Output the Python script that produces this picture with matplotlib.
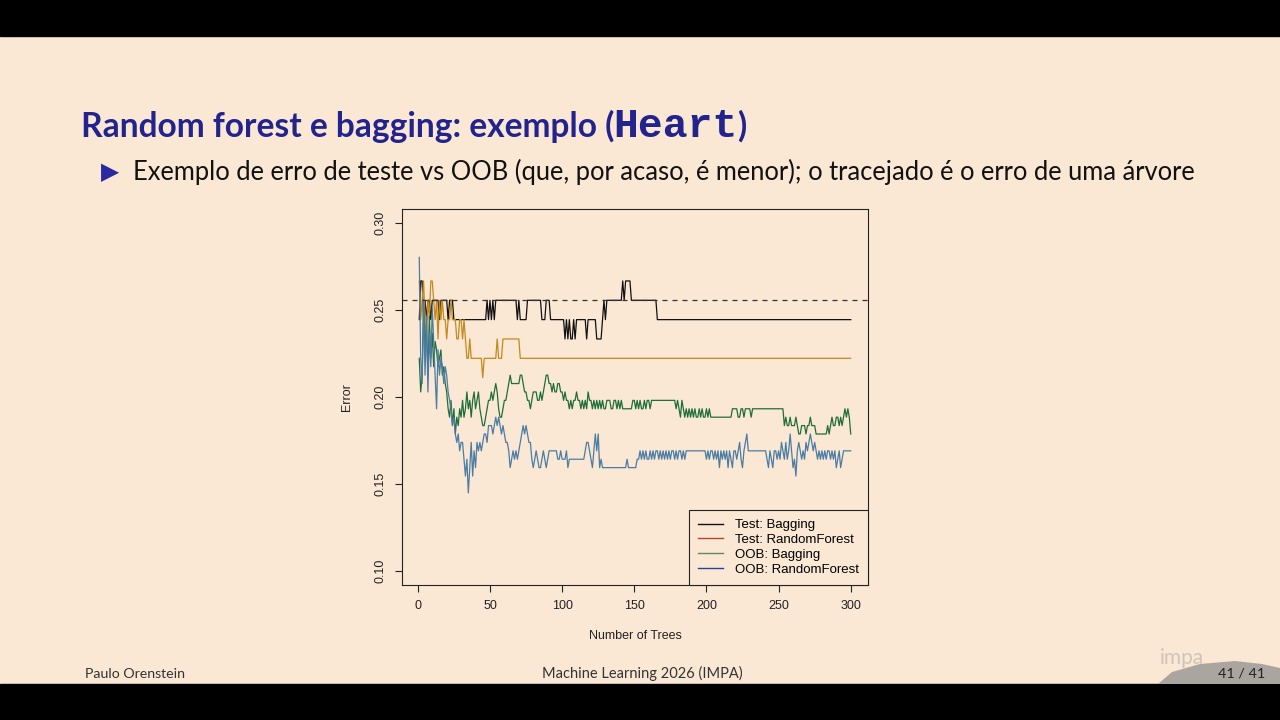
import numpy as np
import matplotlib
matplotlib.use("Agg")
import matplotlib.pyplot as plt
from matplotlib import font_manager
from matplotlib.lines import Line2D
from matplotlib.patches import Rectangle, Polygon

# errors, as counts: test set has 90 obs, OOB uses 207
n_test = 90
n_oob = 207
single_tree_err = 23 / 90

test_bag = ([22, 24, 24, 22, 23, 22, 23, 23, 22, 23,
             23, 23, 23, 23, 22, 23, 23, 23, 23, 23,
             22, 23, 23, 23, 22]
            + [22] * 22
            + [23, 22, 23, 22, 23, 22]
            + [23] * 15
            + [22, 23, 22, 22, 22, 22, 22]
            + [23] * 10
            + [22, 22, 22]
            + [23] * 3
            + [22] * 10
            + [21, 22, 21, 22, 21, 21, 22, 21, 22, 22]
            + [22] * 5
            + [21]
            + [22] * 6
            + [21, 21, 21, 21]
            + [22, 23, 22, 23]
            + [23] * 10
            + [24, 23, 24, 24, 24, 24]
            + [23] * 18
            + [22] * 135)

test_rf = ([24, 22, 23, 24, 22, 21, 23, 22, 24, 24,
            23, 22, 23, 21, 23, 22, 23, 22, 22, 21,
            22, 22, 23, 22, 22, 22, 21, 21, 22, 22,
            21, 22, 21, 20, 20, 21]
           + [20] * 8
           + [19]
           + [20] * 9
           + [21]
           + [20] * 3
           + [21] * 12
           + [20] * 230)

oob_bag = [46, 42, 44, 52, 47, 50, 44, 51, 46, 49,
           45, 48, 47, 45, 46, 47, 44, 45, 43, 42,
           40, 39, 41, 38, 40, 37, 39, 38, 40, 39,
           41, 39, 40, 42, 40, 41, 39, 41, 42, 40,
           41, 42, 40, 39, 38, 38, 39, 40, 41, 41,
           42, 41, 42, 43, 42, 40, 39, 39, 40, 41,
           41, 42, 43, 44, 43, 43, 43, 43, 43, 43,
           44, 44, 43, 42, 42, 41, 41, 40, 41, 42,
           42, 42, 41, 41, 42, 41, 42, 43, 44, 44,
           43, 43, 42, 43, 42, 42, 43, 43, 42, 42,
           41, 42, 41, 41, 40, 41, 40, 41, 41, 42,
           41, 41, 40, 41, 40, 41, 40, 42, 41, 41,
           40, 41, 40, 41, 40, 41, 40, 41, 40, 40,
           41, 41, 41, 40, 40, 41, 41, 40, 41, 40,
           41, 40, 40, 40, 40, 40, 40, 40, 41, 41,
           40, 41, 40, 41, 40, 40, 41, 40, 41, 41,
           40, 41, 41, 41, 41, 41, 41, 41, 41, 41,
           41, 41, 41, 41, 41, 41, 41, 41, 40, 41,
           40, 39, 41, 40, 39, 40, 39, 40, 39, 40,
           39, 40, 39, 39, 40, 39, 40, 39, 39, 40,
           39, 40, 39, 39, 39, 39, 39, 39, 39, 39,
           39, 39, 39, 39, 39, 39, 39, 40, 40, 40,
           40, 39, 39, 40, 40, 39, 40, 40, 40, 40,
           39, 40, 40, 40, 40, 40, 40, 40, 40, 40,
           40, 40, 40, 40, 40, 40, 40, 40, 40, 40,
           40, 40, 40, 38, 39, 38, 38, 39, 38, 38,
           38, 39, 38, 37, 37, 38, 38, 38, 37, 38,
           38, 39, 38, 38, 38, 37, 37, 37, 37, 37,
           37, 37, 37, 38, 37, 38, 39, 38, 38, 39,
           39, 38, 39, 38, 39, 40, 39, 40, 39, 37]

oob_rf = [58, 46, 43, 53, 44, 51, 42, 49, 45, 52,
          48, 44, 40, 47, 44, 46, 45, 43, 45, 44,
          42, 41, 40, 38, 39, 37, 36, 37, 35, 36,
          36, 34, 32, 34, 30, 33, 36, 32, 35, 33,
          36, 35, 36, 35, 36, 37, 37, 36, 38, 38,
          38, 37, 38, 39, 38, 39, 38, 37, 38, 37,
          36, 36, 35, 33, 34, 35, 34, 35, 34, 35,
          36, 37, 38, 37, 38, 37, 36, 36, 34, 33,
          34, 35, 34, 33, 33, 34, 35, 34, 33, 34,
          35, 35, 35, 35, 35, 35, 34, 34, 35, 34,
          34, 34, 35, 33, 34, 34, 34, 34, 34, 34,
          34, 34, 34, 34, 34, 35, 36, 36, 35, 34,
          33, 35, 37, 35, 37, 33, 34, 33, 33, 33,
          33, 33, 33, 33, 33, 33, 33, 33, 33, 33,
          33, 33, 33, 33, 34, 33, 33, 33, 33, 33,
          33, 34, 34, 35, 34, 35, 34, 35, 34, 34,
          35, 34, 35, 34, 35, 35, 34, 35, 34, 35,
          34, 35, 34, 35, 34, 35, 35, 34, 35, 34,
          35, 35, 34, 35, 34, 35, 35, 35, 35, 35,
          35, 35, 35, 35, 35, 35, 35, 35, 35, 34,
          35, 34, 35, 35, 34, 35, 34, 35, 33, 35,
          34, 35, 34, 35, 33, 35, 34, 33, 35, 35,
          34, 35, 36, 34, 33, 35, 36, 37, 35, 35,
          35, 35, 35, 35, 35, 35, 35, 35, 35, 35,
          35, 34, 33, 35, 34, 33, 35, 35, 34, 35,
          34, 36, 35, 34, 36, 34, 35, 37, 35, 33,
          34, 32, 35, 36, 35, 34, 35, 34, 36, 35,
          36, 37, 36, 35, 36, 35, 34, 35, 34, 35,
          34, 35, 34, 35, 35, 34, 35, 34, 35, 33,
          34, 35, 33, 34, 35, 35, 35, 35, 35, 35]

labels = ["Test: Bagging", "Test: RandomForest", "OOB: Bagging", "OOB: RandomForest"]
line_colors = ["#111111", "#C4891C", "#1F6E38", "#4A7CA4"]
legend_colors = ["#111111", "#B8442A", "#5E8B5E", "#2A3F9E"]
xticks = [0, 50, 100, 150, 200, 250, 300]
yticks = [0.10, 0.15, 0.20, 0.25, 0.30]

BG = "#FAE8D5"
W, H = 1280, 720

names = {f.name for f in font_manager.fontManager.ttflist}
def pick(*cands):
    for c in cands:
        if c in names:
            return c
    return "DejaVu Sans"

title_font = pick("Lato", "Open Sans", "DejaVu Sans")
body_font = pick("Lato", "Open Sans", "DejaVu Sans")
mono_font = pick("Liberation Mono", "DejaVu Sans Mono")
plot_font = pick("Liberation Sans", "DejaVu Sans")

fig = plt.figure(figsize=(12.8, 7.2), dpi=100, facecolor=BG)
renderer = fig.canvas.get_renderer()

def fx(x):
    return x / W

def fy(y):
    return 1 - y / H

def fit(t, width):
    bb = t.get_window_extent(renderer)
    t.set_fontsize(t.get_fontsize() * width / bb.width)

def right_px(t):
    return t.get_window_extent(renderer).x1

# black letterbox bars
fig.add_artist(Rectangle((0, fy(36)), 1, 36 / H, transform=fig.transFigure, color="black", zorder=0))
fig.add_artist(Rectangle((0, 0), 1, 36 / H, transform=fig.transFigure, color="black", zorder=0))

# title
navy = "#22238C"
t1 = fig.text(fx(81), fy(137), "Random forest e bagging: exemplo (", family=title_font,
              weight="bold", color=navy, fontsize=20, va="baseline")
fit(t1, 534)
tsize = t1.get_fontsize()
t2 = fig.text(fx(right_px(t1) - 1), fy(137), "Heart", family=mono_font, weight="bold",
              color=navy, fontsize=tsize, va="baseline")
fit(t2, 124)
t3 = fig.text(fx(right_px(t2) - 1), fy(137), ")", family=title_font, weight="bold",
              color=navy, fontsize=tsize, va="baseline")

# bullet
fig.text(fx(101), fy(172), "\u25B6", family="DejaVu Sans", color="#2A2AA0", fontsize=17,
         va="center", ha="left")
tb = fig.text(fx(133), fy(180), "Exemplo de erro de teste vs OOB (que, por acaso, \u00e9 menor); "
              "o tracejado \u00e9 o erro de uma \u00e1rvore", family=body_font, color="#111111",
              fontsize=15, va="baseline")
fit(tb, 1066)

# footer
f1 = fig.text(fx(85), fy(678), "Paulo Orenstein", family=body_font, color="#333333",
              fontsize=9, va="baseline")
fit(f1, 101)
f2 = fig.text(fx(642), fy(678), "Machine Learning 2026 (IMPA)", family=body_font,
              color="#333333", fontsize=9, va="baseline", ha="center")
fit(f2, 200)

# impa logo swoosh
swoosh = Polygon([(fx(1158), fy(684)), (fx(1172), fy(672)), (fx(1200), fy(664)),
                  (fx(1235), fy(661)), (fx(1262), fy(664)), (fx(1280), fy(668)),
                  (fx(1280), fy(684))], closed=True, transform=fig.transFigure,
                 facecolor="#ABA59F", edgecolor="none", zorder=1)
fig.add_artist(swoosh)
fig.text(fx(1160), fy(664), "impa", family=body_font, color="#CDC5BD", fontsize=15,
         va="baseline", zorder=2)
f3 = fig.text(fx(1218), fy(678), "41 / 41", family=body_font, color="#222222",
              fontsize=9, va="baseline", zorder=3)
fit(f3, 47)

# the chart
ax = fig.add_axes([fx(402), fy(585), 466 / W, 376 / H])
ax.set_facecolor(BG)
trees = np.arange(1, 301)
series = [test_bag, test_rf, oob_bag, oob_rf]
denoms = [n_test, n_test, n_oob, n_oob]
for vals, d, c in zip(series, denoms, line_colors):
    ax.plot(trees, np.array(vals) / d, color=c, lw=0.9)
ax.axhline(single_tree_err, color="#333333", lw=0.9, ls=(0, (4, 4)))

ax.set_xlim(-10.96, 311.96)
ax.set_ylim(0.092, 0.308)
ax.set_xticks(xticks)
ax.set_yticks(yticks)
ax.set_xticklabels([str(v) for v in xticks], family=plot_font, fontsize=9)
ax.set_yticklabels([f"{v:.2f}" for v in yticks], family=plot_font, fontsize=9,
                   rotation=90, va="center")
ax.tick_params(axis="both", direction="out", length=5, width=0.8, colors="#222222")
ax.tick_params(axis="x", pad=6)
ax.tick_params(axis="y", pad=6)
for s in ax.spines.values():
    s.set_linewidth(0.8)
    s.set_color("#222222")

fig.text(fx(347), fy(397), "Error", family=plot_font, fontsize=9, rotation=90,
         ha="center", va="center", color="#222222")
fig.text(fx(635), fy(636), "Number of Trees", family=plot_font, fontsize=9,
         ha="center", va="center", color="#222222")

handles = [Line2D([], [], color=c, lw=1.0) for c in legend_colors]
leg = ax.legend(handles, labels, loc="lower right", borderaxespad=0, fancybox=False,
                edgecolor="#222222", facecolor=BG, framealpha=1,
                prop={"family": plot_font, "size": 9.5}, handlelength=1.9,
                handletextpad=0.9, labelspacing=0.2, borderpad=0.7)
leg.get_frame().set_linewidth(0.8)

fig.savefig("out.png", dpi=100, facecolor=BG)
